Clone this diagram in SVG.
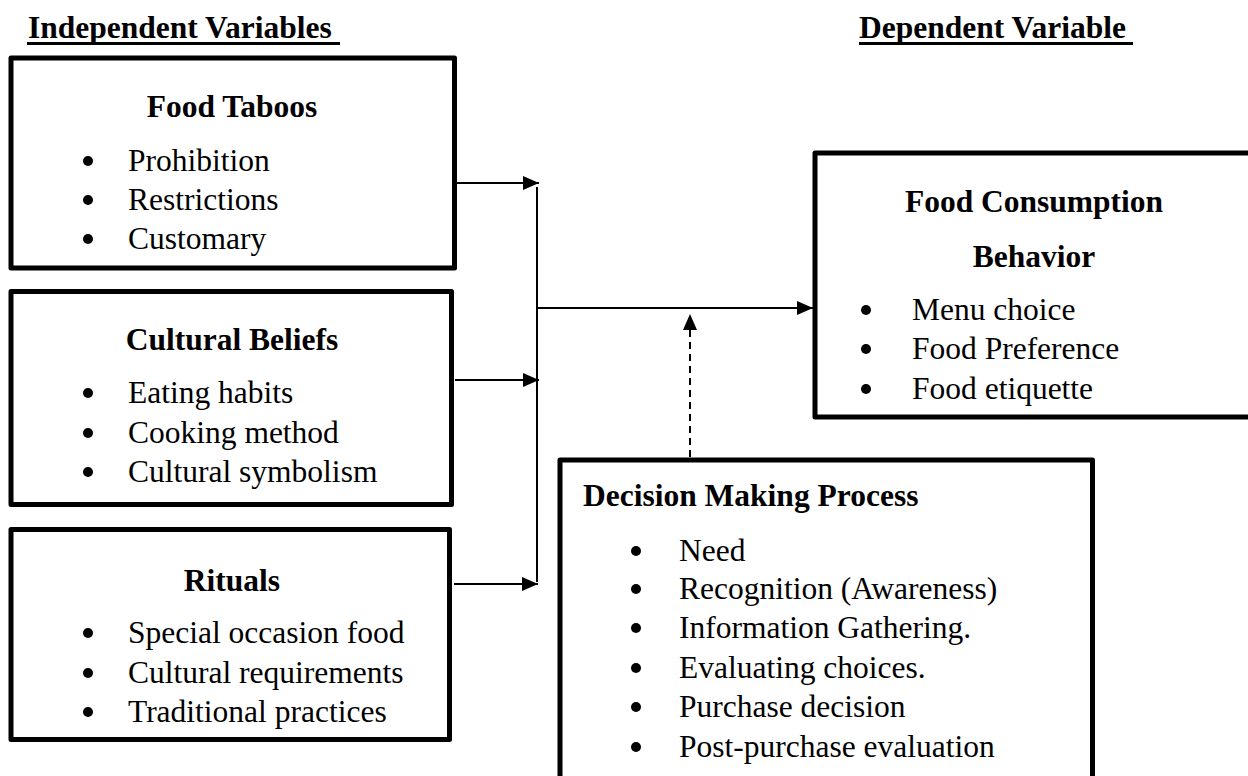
<svg xmlns="http://www.w3.org/2000/svg" width="1248" height="776" viewBox="0 0 1248 776">
<style>
.box{fill:#fff;stroke:#000;stroke-width:5;stroke-linejoin:round}
.t{font-family:"Liberation Serif","Times New Roman",serif;font-size:31.5px;fill:#000}
.b{font-weight:bold}
.c{text-anchor:middle}
.ln{stroke:#000;stroke-width:2;fill:none}
.ds{stroke:#000;stroke-width:2;fill:none;stroke-dasharray:7 5}
.dot{fill:#000}
</style>
<defs>
<marker id="ah" viewBox="0 0 16 14" refX="16" refY="7" markerWidth="16" markerHeight="14" markerUnits="userSpaceOnUse" orient="auto">
<path d="M0,0L16,7L0,14z" fill="#000"/>
</marker>
</defs>
<rect width="1248" height="776" fill="#fff"/>
<g id="headers">
<text class="t b" x="28" y="38">Independent Variables</text>
<line x1="27" y1="43.5" x2="340" y2="43.5" stroke="#000" stroke-width="3"/>
<text class="t b" x="859" y="38">Dependent Variable</text>
<line x1="859" y1="43.5" x2="1133" y2="43.5" stroke="#000" stroke-width="3"/>
</g>
<g id="connectors">
<line class="ln" x1="456" y1="183" x2="539" y2="183" marker-end="url(#ah)"/>
<line class="ln" x1="455" y1="380" x2="539" y2="380" marker-end="url(#ah)"/>
<line class="ln" x1="454" y1="584" x2="538" y2="584" marker-end="url(#ah)"/>
<line class="ln" x1="537" y1="187" x2="537" y2="582"/>
<line class="ln" x1="537" y1="308" x2="813" y2="308" marker-end="url(#ah)"/>
<line class="ds" x1="690" y1="457" x2="690" y2="314" marker-end="url(#ah)"/>
</g>
<g id="food-taboos">
<rect class="box" x="11" y="58" width="443.5" height="210"/>
<text class="t b c" x="232" y="117">Food Taboos</text>
<circle class="dot" cx="88" cy="161" r="5"/><text class="t" x="128" y="171">Prohibition</text>
<circle class="dot" cx="88" cy="200" r="5"/><text class="t" x="128" y="210">Restrictions</text>
<circle class="dot" cx="88" cy="239" r="5"/><text class="t" x="128" y="249">Customary</text>
</g>
<g id="cultural-beliefs">
<rect class="box" x="11" y="291.5" width="440.5" height="213"/>
<text class="t b c" x="232" y="350">Cultural Beliefs</text>
<circle class="dot" cx="88" cy="393" r="5"/><text class="t" x="128" y="403">Eating habits</text>
<circle class="dot" cx="88" cy="433" r="5"/><text class="t" x="128" y="443">Cooking method</text>
<circle class="dot" cx="88" cy="472" r="5"/><text class="t" x="128" y="482">Cultural symbolism</text>
</g>
<g id="rituals">
<rect class="box" x="11" y="529.5" width="438.5" height="210"/>
<text class="t b c" x="232" y="591">Rituals</text>
<circle class="dot" cx="88" cy="633" r="5"/><text class="t" x="128" y="643">Special occasion food</text>
<circle class="dot" cx="88" cy="673" r="5"/><text class="t" x="128" y="683">Cultural requirements</text>
<circle class="dot" cx="88" cy="712" r="5"/><text class="t" x="128" y="722">Traditional practices</text>
</g>
<g id="food-consumption">
<rect class="box" x="815" y="153" width="445" height="264"/>
<text class="t b c" x="1034" y="212">Food Consumption</text>
<text class="t b c" x="1034" y="267">Behavior</text>
<circle class="dot" cx="866" cy="310" r="5"/><text class="t" x="912" y="320">Menu choice</text>
<circle class="dot" cx="866" cy="349" r="5"/><text class="t" x="912" y="359">Food Preference</text>
<circle class="dot" cx="866" cy="389" r="5"/><text class="t" x="912" y="399">Food etiquette</text>
</g>
<g id="decision-making">
<rect class="box" x="560" y="460" width="532.5" height="330"/>
<text class="t b" x="583" y="506">Decision Making Process</text>
<circle class="dot" cx="636" cy="551" r="5"/><text class="t" x="679" y="561">Need</text>
<circle class="dot" cx="636" cy="589" r="5"/><text class="t" x="679" y="599">Recognition (Awareness)</text>
<circle class="dot" cx="636" cy="628" r="5"/><text class="t" x="679" y="638">Information Gathering.</text>
<circle class="dot" cx="636" cy="668" r="5"/><text class="t" x="679" y="678">Evaluating choices.</text>
<circle class="dot" cx="636" cy="707" r="5"/><text class="t" x="679" y="717">Purchase decision</text>
<circle class="dot" cx="636" cy="747" r="5"/><text class="t" x="679" y="757">Post-purchase evaluation</text>
</g>
</svg>
